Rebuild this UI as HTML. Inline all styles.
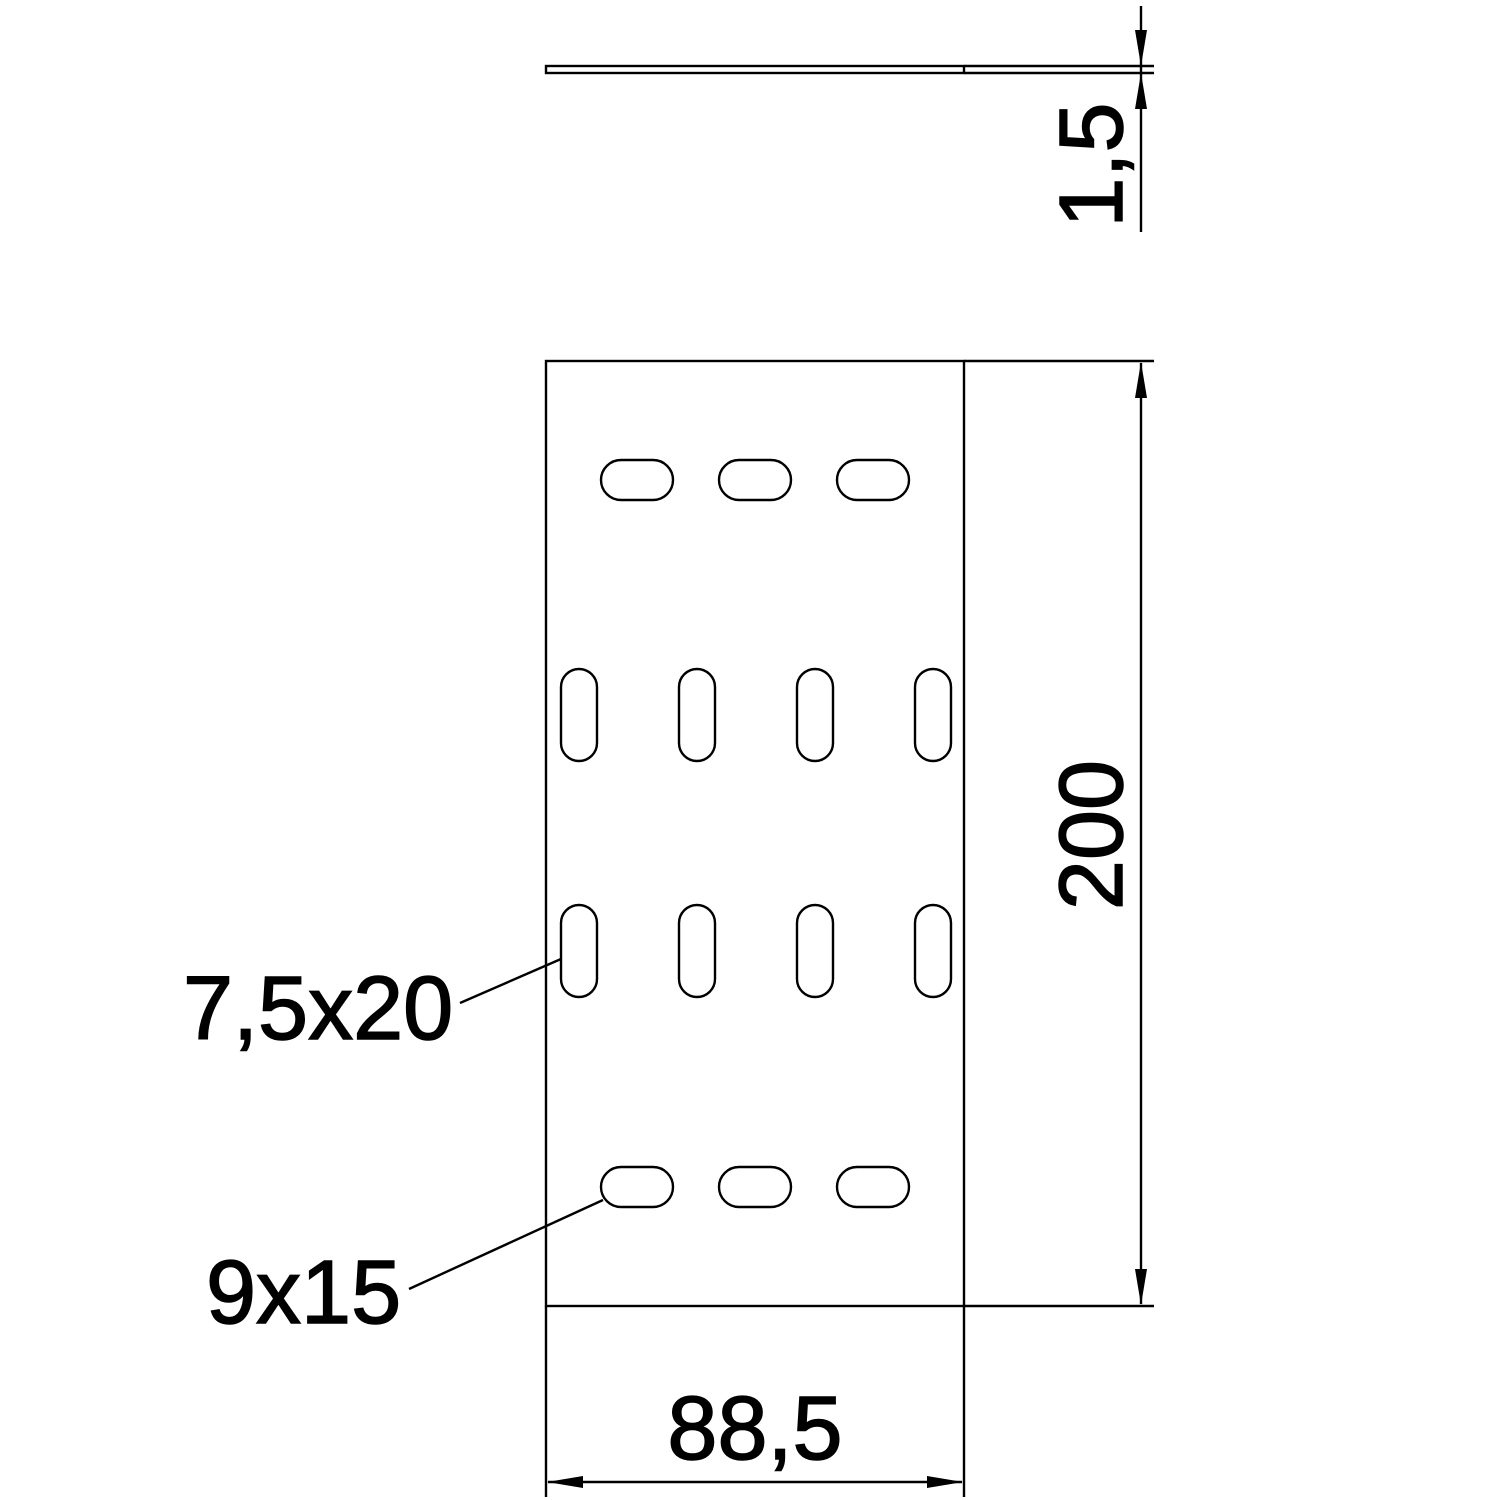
<!DOCTYPE html>
<html><head><style>html,body{margin:0;padding:0;background:#fff}svg{display:block}</style></head>
<body>
<svg width="1500" height="1500" viewBox="0 0 1500 1500" xmlns="http://www.w3.org/2000/svg">
<g fill="none" stroke="#000" stroke-width="2.4">
<rect x="546" y="66" width="418" height="7"/>
<line x1="964" y1="66" x2="1154" y2="66"/>
<line x1="964" y1="73" x2="1154" y2="73"/>
<line x1="1141" y1="6" x2="1141" y2="232"/>
<rect x="546" y="361" width="418" height="945"/>
<line x1="964" y1="361" x2="1154" y2="361"/>
<line x1="964" y1="1306" x2="1154" y2="1306"/>
<line x1="1141" y1="363" x2="1141" y2="1304"/>
<line x1="546" y1="1306" x2="546" y2="1497"/>
<line x1="964" y1="1306" x2="964" y2="1497"/>
<line x1="548" y1="1482" x2="962" y2="1482"/>
<line x1="460" y1="1003" x2="561" y2="959"/>
<line x1="409" y1="1289" x2="603" y2="1200"/>
<rect x="601" y="460" width="72" height="40" rx="20"/>
<rect x="719" y="460" width="72" height="40" rx="20"/>
<rect x="837" y="460" width="72" height="40" rx="20"/>
<rect x="601" y="1167" width="72" height="40" rx="20"/>
<rect x="719" y="1167" width="72" height="40" rx="20"/>
<rect x="837" y="1167" width="72" height="40" rx="20"/>
<rect x="561" y="669" width="36" height="92" rx="18"/>
<rect x="679" y="669" width="36" height="92" rx="18"/>
<rect x="797" y="669" width="36" height="92" rx="18"/>
<rect x="915" y="669" width="36" height="92" rx="18"/>
<rect x="561" y="905" width="36" height="92" rx="18"/>
<rect x="679" y="905" width="36" height="92" rx="18"/>
<rect x="797" y="905" width="36" height="92" rx="18"/>
<rect x="915" y="905" width="36" height="92" rx="18"/>
</g>
<g fill="#000">
<polygon points="1141,66 1135,30 1147,30"/>
<polygon points="1141,73 1135,109 1147,109"/>
<polygon points="1141,362 1135,398 1147,398"/>
<polygon points="1141,1305 1135,1269 1147,1269"/>
<polygon points="547,1482 583,1476 583,1488"/>
<polygon points="963,1482 927,1476 927,1488"/>
</g>
<g font-family="Liberation Sans, Arial, sans-serif" font-size="90" fill="#000" stroke="#000" stroke-width="1.5">
<text x="183" y="1039">7,5x20</text>
<text x="206" y="1323">9x15</text>
<text x="755" y="1459" text-anchor="middle">88,5</text>
<text transform="translate(1122,835) rotate(-90)" text-anchor="middle">200</text>
<text transform="translate(1122,165) rotate(-90)" text-anchor="middle">1,5</text>
</g>
</svg>
</body></html>
